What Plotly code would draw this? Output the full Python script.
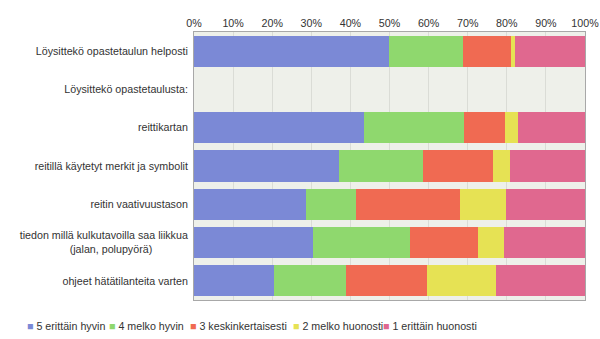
import plotly.graph_objects as go

categories = [
    "Löysittekö opastetaulun helposti",
    "Löysittekö opastetaulusta:",
    "reittikartan",
    "reitillä käytetyt merkit ja symbolit",
    "reitin vaativuustason",
    "tiedon millä kulkutavoilla saa liikkua<br>(jalan, polupyörä)" + "\u00a0" * 12,
    "ohjeet hätätilanteita varten",
]

series_names = [
    "5 erittäin hyvin",
    "4 melko hyvin",
    "3 keskinkertaisesti",
    "2 melko huonosti",
    "1 erittäin huonosti",
]

s5 = [49.8, None, 43.4, 37.1, 28.6, 30.4, 20.5]
s4 = [19.1, None, 25.7, 21.4, 12.8, 24.9, 18.5]
s3 = [12.1, None, 10.5, 17.9, 26.6, 17.3, 20.6]
s2 = [1.2, None, 3.3, 4.3, 11.7, 6.6, 17.6]
s1 = [17.8, None, 17.1, 19.3, 20.3, 20.8, 22.8]

values = [s5, s4, s3, s2, s1]
colors = ["#7b89d6", "#8fd86e", "#f06a52", "#e6e254", "#e0688f"]

# left edge (px) of each legend entry's square in the reference
legend_sq_x = [30, 112, 193, 296, 386]

FONT = "Liberation Sans, Arial, sans-serif"
FS = 10.7
PLOT_L, PLOT_W = 194, 391

fig = go.Figure()
for name, vals, col in zip(series_names, values, colors):
    fig.add_trace(go.Bar(
        y=categories, x=vals, name=name, orientation="h",
        marker=dict(color=col, line=dict(width=0)),
        hoverinfo="x+name", showlegend=False,
    ))

legend_layout = {}
for i, (name, col, sx) in enumerate(zip(series_names, colors, legend_sq_x)):
    key = "legend" if i == 0 else f"legend{i + 1}"
    label = f'<span style="color:{col}">■</span> {name}'
    fig.add_trace(go.Scatter(
        x=[None], y=[None], mode="markers", name=label,
        marker=dict(symbol="square", size=0, color="rgba(0,0,0,0)", opacity=0,
                    line=dict(width=0)),
        legend=key, showlegend=True, hoverinfo="skip",
    ))
    legend_layout[key] = dict(
        orientation="h", xref="paper", yref="container",
        x=(sx - 43 - PLOT_L) / PLOT_W, xanchor="left", y=0.038, yanchor="middle",
        font=dict(family=FONT, size=FS, color="#333333"), itemwidth=30,
        bgcolor="rgba(0,0,0,0)", borderwidth=0,
    )

fig.update_layout(
    barmode="stack",
    width=600, height=339,
    margin=dict(l=PLOT_L, r=15, t=32, b=39, autoexpand=False),
    paper_bgcolor="white",
    plot_bgcolor="#eef0ea",
    bargap=0.19,
    font=dict(family=FONT, size=FS, color="#333333"),
    showlegend=True,
    **legend_layout,
)
fig.update_xaxes(
    side="top", range=[0, 100], dtick=10, ticksuffix="%",
    showgrid=True, gridcolor="#dadcd6", gridwidth=1,
    showline=True, linecolor="#a8a8a8", linewidth=1, mirror=True,
    ticks="", zeroline=False, tickfont=dict(family=FONT, size=FS, color="#333333"),
    automargin=False, fixedrange=True,
)
fig.update_yaxes(
    autorange="reversed", showgrid=False,
    showline=True, linecolor="#a8a8a8", linewidth=1, mirror=True,
    ticks="", ticklabelstandoff=3, tickfont=dict(family=FONT, size=FS, color="#333333"),
    automargin=False, fixedrange=True,
)

fig.write_html("out.html")
